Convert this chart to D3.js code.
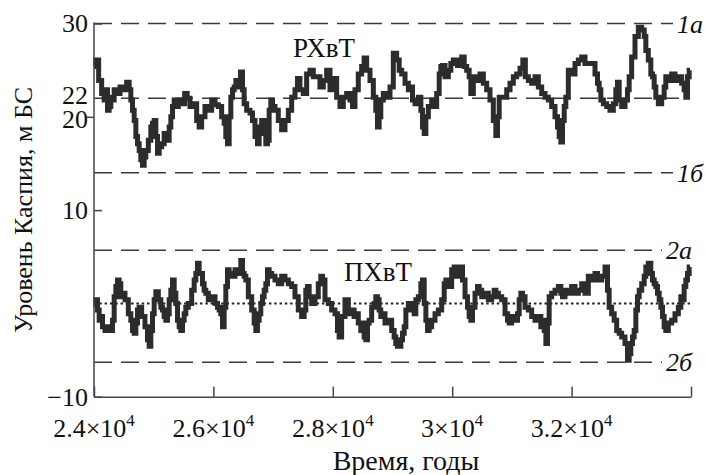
<!DOCTYPE html>
<html><head><meta charset="utf-8">
<script src="https://cdn.jsdelivr.net/npm/d3@7"></script>
<style>
body{margin:0;background:#fff;}
svg text{font-family:"Liberation Serif","Times New Roman",serif;fill:#111;}
</style></head>
<body><svg id="c" width="705" height="475"></svg>
<script>
// ---- data ----
const upperYears = [24000,24056,24100,24156,24184,24212,24240,24268,24296,24324,24352,24408,24463,24519,24575,24603,24631,24659,24687,24715,24743,24770,24798,24826,24854,24882,24938,24966,24994,25022,25050,25078,25105,25161,25189,25245,25273,25301,25329,25357,25385,25440,25496,25541,25580,25636,25692,25747,25775,25831,25887,25943,25999,26055,26110,26166,26194,26222,26250,26278,26306,26334,26362,26390,26434,26473,26501,26529,26585,26641,26669,26724,26752,26780,26836,26864,26892,26920,26948,26976,27004,27059,27115,27171,27227,27283,27339,27394,27422,27478,27534,27590,27646,27701,27757,27813,27869,27925,27981,28037,28092,28148,28204,28260,28316,28344,28399,28455,28511,28539,28595,28651,28707,28734,28762,28790,28818,28874,28930,28986,29041,29098,29126,29182,29238,29293,29321,29349,29405,29461,29489,29517,29545,29573,29628,29684,29712,29768,29796,29824,29852,29908,29963,29991,30047,30131,30187,30215,30270,30298,30326,30382,30438,30494,30550,30605,30661,30717,30745,30773,30801,30885,30941,30996,31052,31108,31164,31203,31248,31303,31359,31415,31471,31527,31583,31638,31694,31750,31778,31806,31834,31862,31890,31917,31973,32029,32085,32141,32197,32252,32308,32364,32420,32448,32476,32504,32560,32615,32671,32727,32755,32783,32811,32867,32922,32950,32978,33034,33090,33146,33202,33230,33257,33313,33341,33369,33397,33425,33481,33537,33564,33592,33648,33704,33760,33816,33871,33899,33927,33955,33983];
const upperLevel = [25.4,26.1,23.9,22.5,21.8,22.9,20.7,21.1,22.1,21.8,22.9,22.5,23.2,22.9,23.7,22.9,21.8,20.7,19.6,17.9,17.1,16.4,15.4,14.8,15.7,16.4,17.5,18.9,19.3,19.6,17.9,16.1,16.8,17.1,18.2,17.5,18.9,20.0,21.1,21.8,21.1,21.8,21.4,22.5,22.0,21.1,21.4,19.6,18.9,20.0,21.1,20.7,21.8,21.3,21.1,20.0,19.3,17.9,17.1,20.0,22.1,22.9,23.2,23.9,23.2,24.8,22.9,21.4,20.7,20.4,19.6,17.9,17.1,18.9,19.6,18.2,17.1,17.5,20.7,21.8,21.1,20.7,19.6,18.6,19.6,20.7,22.1,22.9,24.1,22.9,22.5,24.6,25.0,24.3,24.3,23.2,23.9,25.0,22.9,24.1,22.1,21.1,22.1,22.5,21.8,21.1,22.9,24.6,25.4,26.3,25.0,23.9,22.1,20.7,18.9,20.0,21.8,22.5,22.1,23.2,26.8,26.1,25.0,24.6,23.6,22.9,23.2,21.8,21.4,22.1,20.7,18.9,18.2,20.0,21.1,21.8,21.1,22.5,24.6,25.4,25.5,24.3,25.0,25.7,26.1,25.5,26.4,25.4,25.0,24.3,22.5,24.3,23.9,24.6,23.6,22.9,21.8,19.6,18.0,20.0,22.1,22.1,22.9,23.6,24.3,24.6,25.2,26.1,24.3,23.9,23.6,24.3,23.2,22.5,22.1,21.8,21.1,20.0,18.9,17.9,17.3,19.6,21.1,22.1,25.0,24.6,25.7,26.1,26.4,25.7,25.7,25.7,24.6,23.6,22.9,21.8,21.4,21.1,20.7,21.4,22.9,23.7,21.8,21.1,21.8,22.9,24.3,26.4,28.6,29.6,29.3,28.6,27.1,26.1,24.6,24.3,23.2,22.1,21.4,22.1,23.2,24.3,23.9,24.6,23.9,24.3,23.6,22.9,22.1,24.3,25.0];

const lowerYears = [24017,24045,24073,24100,24128,24156,24212,24268,24296,24324,24352,24380,24408,24435,24463,24491,24547,24603,24631,24659,24687,24715,24743,24770,24826,24882,24910,24938,24966,24994,25022,25050,25105,25133,25161,25189,25217,25245,25273,25301,25329,25357,25385,25413,25440,25468,25496,25524,25552,25608,25664,25692,25720,25747,25775,25803,25831,25859,25887,25943,25999,26055,26082,26110,26138,26166,26194,26222,26250,26278,26334,26390,26445,26473,26501,26529,26557,26613,26669,26697,26724,26752,26780,26808,26836,26864,26892,26920,26948,27004,27059,27115,27171,27227,27283,27339,27394,27450,27506,27534,27562,27590,27618,27674,27729,27785,27813,27841,27897,27953,28009,28064,28092,28120,28176,28232,28288,28344,28371,28399,28455,28483,28511,28539,28567,28595,28623,28679,28707,28734,28762,28790,28818,28846,28902,28958,29014,29041,29069,29097,29126,29154,29182,29210,29238,29293,29349,29377,29405,29461,29489,29517,29545,29573,29601,29628,29684,29740,29796,29852,29880,29908,29963,30019,30047,30075,30131,30159,30187,30243,30270,30298,30326,30354,30410,30438,30466,30522,30578,30633,30689,30717,30745,30801,30857,30913,30941,30968,31024,31080,31108,31136,31164,31192,31248,31303,31359,31415,31471,31499,31527,31555,31583,31610,31638,31694,31750,31806,31834,31862,31917,31973,32029,32085,32141,32197,32252,32308,32364,32420,32448,32476,32532,32587,32615,32643,32699,32727,32783,32811,32867,32922,32950,32978,33006,33034,33062,33090,33118,33146,33202,33230,33257,33313,33341,33369,33397,33425,33453,33481,33509,33537,33564,33592,33648,33704,33760,33816,33843,33871,33899,33927,33955,33983];
const lowerLevel = [-0.4,0.4,-0.7,-1.8,-1.4,-2.5,-2.9,-2.5,-2.9,-1.8,0.7,1.8,2.5,2.1,0.7,1.1,0.4,-1.1,-1.8,-2.9,-3.2,-2.1,-0.7,-0.4,-1.4,-2.5,-3.9,-4.6,-2.9,-1.1,0.4,1.25,0.4,-0.4,-0.7,-1.4,-1.8,-1.1,0.4,1.4,2.5,1.1,0,-1.8,-2.5,-2.9,-1.8,-1.1,-0.4,0,1.4,2.5,3.2,4.3,3.2,3.2,2.1,1.4,1.1,0.4,0.7,0,-0.4,-0.7,-1.1,-2.5,-0.4,1.8,3.6,3.2,2.9,3.6,3.2,4.6,3.2,2.9,2.5,0.7,-0.7,-2.1,-2.9,-1.8,-1.1,0,0.7,1.4,2.1,3.6,3.2,2.9,2.5,2.1,2.9,2.5,2.1,1.8,0.7,-0.7,-1.4,-0.7,1.4,1.8,0.7,0,0.7,2.1,2.9,2.5,0.4,0,-0.7,-1.1,-2.9,-3.6,-1.4,0.4,-1.1,-0.7,-1.4,-1.1,-2.1,-2.9,-2.1,-3.6,-3.9,-2.1,-1.8,-0.4,0,0.7,0.4,-0.7,-1.4,-1.1,-2.1,-1.8,-2.9,-3.6,-4.3,-4.6,-4.6,-3.9,-3.2,-2.5,-0.7,0,-0.7,-1.1,0.4,0.7,2.1,2.5,0,-1.8,-2.9,-2.5,-1.8,-1.1,-0.7,0.4,2.1,2.5,1.8,3.6,3.9,2.9,3.2,3.9,2.5,0.7,-0.4,-1.4,-1.8,-0.4,1.1,1.8,1.4,0.7,1.1,0.4,0.7,1.4,1.1,0.7,0.4,-1.1,-1.8,-2.1,-1.4,-1.8,-1.1,0.4,1.1,0.7,-0.4,-0.7,-1.4,-1.8,-1.4,-2.5,-1.8,-2.9,-4.3,-2.1,0.7,1.1,1.4,1.8,1.1,0.7,1.4,1.1,1.8,1.1,1.4,2.1,1.1,2.9,2.5,3.2,2.9,2.5,2.9,3.9,1.4,-0.4,-1.1,-1.8,-2.9,-3.2,-3.6,-4.3,-6.1,-5.4,-4.3,-3.6,-2.9,-0.7,0.7,1.4,2.1,2.9,3.9,4.3,3.2,2.5,2.1,1.8,1.1,0.4,-0.4,-1.4,-2.5,-2.9,-2.1,-1.8,-1.1,-0.4,0.7,0.4,1.8,2.5,3.2,3.9];

const refLevels = [30, 14, 5.7, -6.3];          // dashed bounds 1а, 1б, 2а, 2б
const refLabels = ["1а", "1б", "2а", "2б"];
const meanUpper = 22, meanLower = 0;
const yTicks = [30, 22, 20, 10, -10];
const xTicks = [24000, 26000, 28000, 30000, 32000, 34000];
const xTickMantissa = ["2.4", "2.6", "2.8", "3", "3.2", ""];
const seriesNames = ["РХвТ", "ПХвТ"];

// ---- scales ----
const svg = d3.select("#c");
const x = d3.scaleLinear().domain([24000, 34000]).range([94, 691]);
const y = d3.scaleLinear().domain([-10, 30]).range([396.7, 23.5]);
const ink = "#2c2c2c";

// reference lines
const refEnds = [673, 673, 662, 662];
refLevels.forEach((v, i) => {
  svg.append("line").attr("x1", x(24000)).attr("x2", refEnds[i])
    .attr("y1", y(v)).attr("y2", y(v))
    .attr("stroke", "#3a3a3a").attr("stroke-width", 1.5).attr("stroke-dasharray", "18,9");
  svg.append("text").attr("x", refEnds[i] + 4).attr("y", y(v)).attr("dy", "0.35em")
    .attr("font-size", 26).attr("font-style", "italic").text(refLabels[i]);
});
svg.append("line").attr("x1", x(24000)).attr("x2", 690).attr("y1", y(meanUpper)).attr("y2", y(meanUpper))
  .attr("stroke", "#3a3a3a").attr("stroke-width", 1.5).attr("stroke-dasharray", "18,9");
svg.append("line").attr("x1", x(24000)).attr("x2", 690).attr("y1", y(meanLower)).attr("y2", y(meanLower))
  .attr("stroke", "#222").attr("stroke-width", 2).attr("stroke-dasharray", "2.5,2.8");

// series
const line = d3.line().x(d => x(d[0])).y(d => y(d[1])).curve(d3.curveStep);
const up = upperYears.map((t, i) => [t, upperLevel[i]]);
const lo = lowerYears.map((t, i) => [t, lowerLevel[i]]);
[up, lo].forEach(d => {
  svg.append("path").datum(d).attr("d", line).attr("fill", "none")
    .attr("stroke", ink).attr("stroke-width", 5).attr("stroke-linejoin", "miter");
});

// axes
const yAxis = d3.axisLeft(y).tickValues(yTicks).tickSizeInner(-8).tickSizeOuter(0).tickPadding(6)
  .tickFormat(d3.format("d"));
const gy = svg.append("g").attr("transform", `translate(${x(24000)},0)`).call(yAxis);
gy.selectAll("text").attr("font-size", 26).attr("fill", "#111");
gy.selectAll(".tick").filter(d => d === 22).select("text").attr("dy", "0.22em");
gy.selectAll(".tick").filter(d => d === 20).select("text").attr("dy", "0.42em");
gy.selectAll(".tick").filter(d => d === 22).select("line").remove();
gy.selectAll(".tick").filter(d => d === 20).select("line").attr("x2", -7);
gy.selectAll("line,path").attr("stroke", "#444").attr("stroke-width", 1.5);
gy.select(".domain").attr("d", `M0,${y(30) - 1}V${y(-10)}`);

const xAxis = d3.axisBottom(x).tickValues(xTicks).tickSizeInner(-10).tickSizeOuter(0).tickFormat("");
const gx = svg.append("g").attr("transform", `translate(0,${y(-10)})`).call(xAxis);
gx.selectAll("line,path").attr("stroke", "#444").attr("stroke-width", 1.5);

xTicks.forEach((t, i) => {
  if (!xTickMantissa[i]) return;
  const tx = svg.append("text").attr("x", x(t)).attr("y", 437).attr("text-anchor", "middle").attr("font-size", 26);
  tx.append("tspan").text(xTickMantissa[i] + "×10");
  tx.append("tspan").attr("font-size", 17).attr("dy", -11).text("4");
});

// titles
svg.append("text").attr("x", 406).attr("y", 470).attr("text-anchor", "middle").attr("font-size", 28).text("Время, годы");
svg.append("text").attr("transform", "translate(32,210) rotate(-90)").attr("text-anchor", "middle")
  .attr("font-size", 26).text("Уровень Каспия, м БС");

// series labels
svg.append("text").attr("x", 324).attr("y", 48).attr("dy", "0.35em").attr("text-anchor", "middle").attr("font-size", 27).text(seriesNames[0]);
svg.append("text").attr("x", 378).attr("y", 272).attr("dy", "0.35em").attr("text-anchor", "middle").attr("font-size", 27).text(seriesNames[1]);
</script></body></html>
